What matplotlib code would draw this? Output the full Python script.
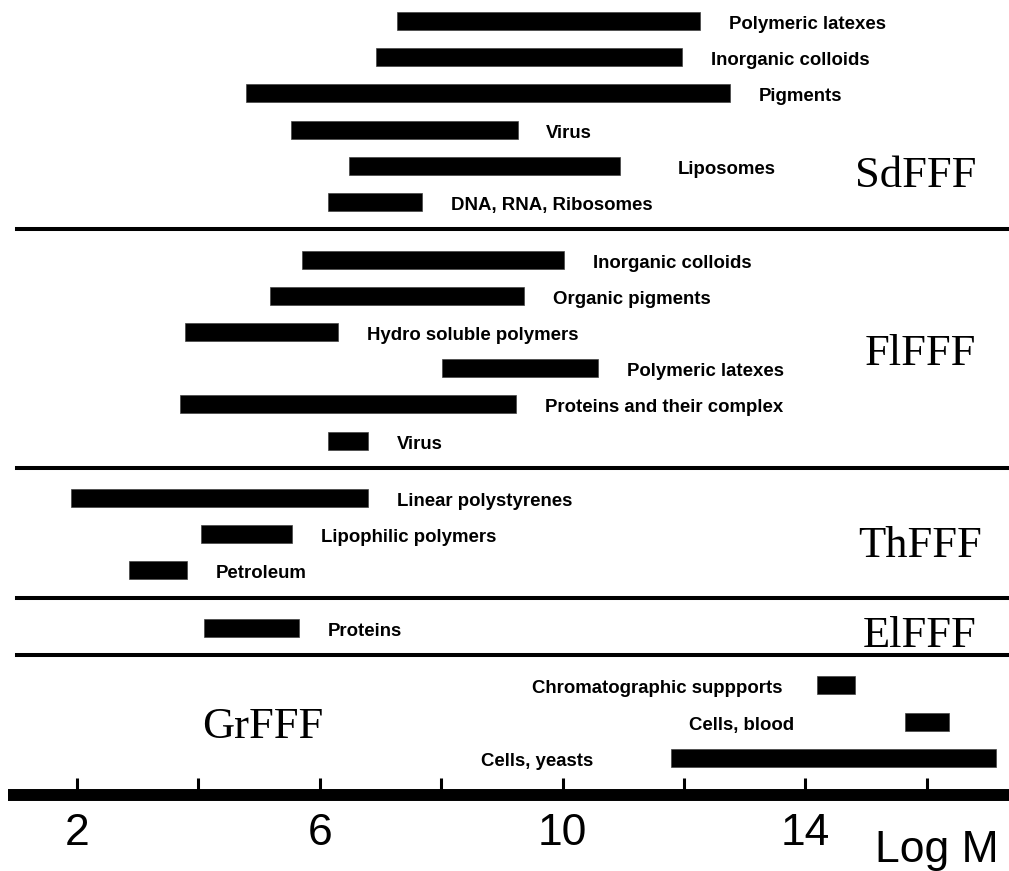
import matplotlib
matplotlib.use('Agg')
from matplotlib import pyplot as plt

# ranges of log M covered by each FFF sub-technique
sd_names = ['Polymeric latexes', 'Inorganic colloids', 'Pigments', 'Virus',
            'Liposomes', 'DNA, RNA, Ribosomes']
sd_lo = [7.27, 6.93, 4.78, 5.53, 6.48, 6.14]
sd_hi = [12.26, 11.97, 12.76, 9.27, 10.95, 7.68]

fl_names = ['Inorganic colloids', 'Organic pigments', 'Hydro soluble polymers',
            'Polymeric latexes', 'Proteins and their complex', 'Virus']
fl_lo = [5.71, 5.18, 3.78, 8.01, 3.70, 6.14]
fl_hi = [10.02, 9.36, 6.30, 10.58, 9.23, 6.79]

th_names = ['Linear polystyrenes', 'Lipophilic polymers', 'Petroleum']
th_lo = [1.90, 4.04, 2.86]
th_hi = [6.79, 5.54, 3.81]

el_names = ['Proteins']
el_lo = [4.09]
el_hi = [5.66]

gr_names = ['Chromatographic suppports', 'Cells, blood', 'Cells, yeasts']
gr_lo = [14.19, 15.64, 11.79]
gr_hi = [14.82, 16.37, 17.14]

techniques = ['SdFFF', 'FlFFF', 'ThFFF', 'ElFFF', 'GrFFF']
tick_values = [2, 4, 6, 8, 10, 12, 14, 16]
tick_labels = ['2', '', '6', '', '10', '', '14', '']

# layout (pixel units on the y axis)
W, H = 1009, 871
PX = 60.7                      # pixels per log M unit
X0 = 2 - 77 / PX
ROW = 36.2
BAR_H = 18
groups = [
    (sd_names, sd_lo, sd_hi, [29, 29, 29, 28, 57, 29], 'right', (855, 187)),
    (fl_names, fl_lo, fl_hi, [29] * 6, 'right', (865, 365)),
    (th_names, th_lo, th_hi, [29] * 3, 'right', (858, 557)),
    (el_names, el_lo, el_hi, [29], 'right', (863, 647)),
    (gr_names, gr_lo, gr_hi, [34, 111, 78], 'left', (202, 738)),
]

fig = plt.figure(figsize=(W / 100, H / 100), dpi=100)
ax = fig.add_axes([0, 0, 1, 1])
ax.set_xlim(X0, X0 + W / PX)
ax.set_ylim(H, 0)
ax.axis('off')

label_font = dict(family=['Liberation Sans', 'DejaVu Sans'], fontsize=13.4, fontweight='bold')
big_serif = dict(family=['Liberation Serif', 'DejaVu Serif'], fontsize=32)
big_sans = dict(family=['Liberation Sans', 'DejaVu Sans'], fontsize=32)

y = 21.0
for (names, lo, hi, gaps, side, tpos), tech in zip(groups, techniques):
    rows = [y + i * ROW for i in range(len(names))]
    ax.barh(rows, [h - l for l, h in zip(lo, hi)], left=lo, height=BAR_H,
            color='black', edgecolor='#444444', linewidth=0.5)
    for name, l, h, g, r in zip(names, lo, hi, gaps, rows):
        if side == 'right':
            ax.text(h + g / PX, r + 8, name, ha='left', va='baseline', **label_font)
        else:
            ax.text(l - g / PX, r + 8, name, ha='right', va='baseline', **label_font)
    tx, ty = tpos
    ax.text(X0 + tx / PX, ty, tech, ha='left', va='baseline', **big_serif)
    if tech != techniques[-1]:
        sep = rows[-1] + 27.5
        ax.axhline(sep, xmin=17 / W, xmax=1, color='black', lw=2.9)
        y = sep + 30

# Log M axis
ax.axhline(795, xmin=8 / W, xmax=1, color='black', lw=8.6, solid_capstyle='butt')
ax.vlines(tick_values, 778, 792, color='black', lw=2.2)
for v, s in zip(tick_values, tick_labels):
    if s:
        ax.text(v, 845, s, ha='center', va='baseline', **big_sans)
ax.text(X0 + 875 / PX, 862, 'Log M', ha='left', va='baseline', **big_sans)

fig.savefig('out.png', dpi=100)
